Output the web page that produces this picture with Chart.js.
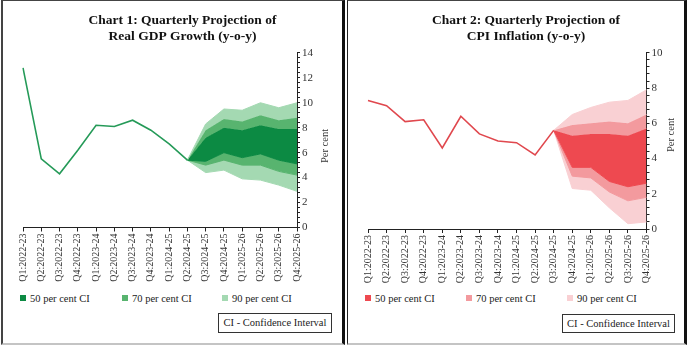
<!DOCTYPE html>
<html>
<head>
<meta charset="utf-8">
<script src="https://cdn.jsdelivr.net/npm/chart.js"></script>
<style>
  body { margin: 0; background: #fff; font-family: "Liberation Serif", serif; color: #222; }
  #wrap { position: relative; width: 691px; height: 347px; overflow: hidden; }
  .panel { position: absolute; top: 0; height: 345px; box-sizing: border-box;
           border-top: 1px solid #444; border-bottom: 2px solid #c4c4c4; }
  #p1 { left: 1px; width: 344px; border-left: 2px solid #444; border-right: 3px solid #111; }
  #p2 { left: 347px; width: 340px; border-left: 1px solid #222; border-right: 3px solid #111; }
  canvas { position: absolute; top: 1px; }
  #c1 { left: 3px; }
  #c2 { left: 348px; }
  .item { position: absolute; top: 292px; font-size: 10.5px; line-height: 14px; white-space: nowrap; }
  .sw { display: inline-block; width: 6px; height: 6px; margin-right: 4px; vertical-align: 1px; }
  .note { position: absolute; box-sizing: border-box; border: 1px solid #333; font-size: 10.5px;
          line-height: 17px; text-align: center; white-space: nowrap; }
</style>
</head>
<body>
<div id="wrap">
  <div class="panel" id="p1"></div>
  <div class="panel" id="p2"></div>
  <canvas id="c1" width="339" height="290"></canvas>
  <canvas id="c2" width="336" height="290"></canvas>
  <div id="leg1"></div>
  <div id="leg2"></div>
  <div class="note" style="left:218px;top:313px;width:114px;height:20px;">CI - Confidence Interval</div>
  <div class="note" style="left:562px;top:314px;width:113px;height:19px;">CI - Confidence Interval</div>
</div>
<script>
const quarters = [
  'Q1:2022-23', 'Q2:2022-23', 'Q3:2022-23', 'Q4:2022-23',
  'Q1:2023-24', 'Q2:2023-24', 'Q3:2023-24', 'Q4:2023-24',
  'Q1:2024-25', 'Q2:2024-25', 'Q3:2024-25', 'Q4:2024-25',
  'Q1:2025-26', 'Q2:2025-26', 'Q3:2025-26', 'Q4:2025-26'
];
const bandNames = ['50 per cent CI', '70 per cent CI', '90 per cent CI'];

// Real GDP growth, actual and fan bands
const gdpActual = [12.8, 5.5, 4.3, 6.2, 8.2, 8.1, 8.6, 7.8, 6.7, 5.4, null, null, null, null, null, null];
const gdpUpper90 = [null, null, null, null, null, null, null, null, null, 5.4, 8.3, 9.5, 9.4, 10.0, 9.6, 10.0];
const gdpUpper70 = [null, null, null, null, null, null, null, null, null, 5.4, 7.8, 8.7, 8.5, 9.0, 8.6, 8.8];
const gdpUpper50 = [null, null, null, null, null, null, null, null, null, 5.4, 7.2, 8.0, 7.8, 8.2, 7.9, 7.9];
const gdpLower50 = [null, null, null, null, null, null, null, null, null, 5.4, 5.3, 6.0, 5.6, 5.9, 5.4, 5.1];
const gdpLower70 = [null, null, null, null, null, null, null, null, null, 5.4, 5.0, 5.4, 5.0, 5.0, 4.5, 4.2];
const gdpLower90 = [null, null, null, null, null, null, null, null, null, 5.4, 4.4, 4.6, 3.9, 3.8, 3.4, 2.9];

// CPI inflation, actual and fan bands
const cpiActual = [7.3, 7.0, 6.1, 6.2, 4.6, 6.4, 5.4, 5.0, 4.9, 4.2, 5.6, null, null, null, null, null];
const cpiUpper90 = [null, null, null, null, null, null, null, null, null, null, 5.6, 6.5, 6.9, 7.2, 7.3, 7.9];
const cpiUpper70 = [null, null, null, null, null, null, null, null, null, null, 5.6, 5.9, 6.0, 6.1, 6.0, 6.5];
const cpiUpper50 = [null, null, null, null, null, null, null, null, null, null, 5.6, 5.3, 5.4, 5.4, 5.3, 5.7];
const cpiLower50 = [null, null, null, null, null, null, null, null, null, null, 5.6, 3.5, 3.5, 2.7, 2.4, 2.6];
const cpiLower70 = [null, null, null, null, null, null, null, null, null, null, 5.6, 3.0, 2.9, 2.1, 1.6, 1.8];
const cpiLower90 = [null, null, null, null, null, null, null, null, null, null, 5.6, 2.3, 2.2, 1.2, 0.3, 0.4];

const gdpTicksMax = 14;
const cpiTicksMax = 10;

const greens = ['#0c8a43', '#58b46f', '#a4d9b2'];
const reds = ['#ee4950', '#f39a9e', '#f9d0d3'];

const serif = '"Liberation Serif", "Times New Roman", serif';

// rotated "Per cent" reading upwards beside the right axis
const sideTitle = {
  id: 'sideTitle',
  afterDraw(chart, args, opts) {
    const { ctx, chartArea } = chart;
    ctx.save();
    ctx.translate(chartArea.right + opts.dx, opts.y);
    ctx.rotate(-Math.PI / 2);
    ctx.font = '10.5px ' + serif;
    ctx.fillStyle = '#333';
    ctx.textAlign = 'center';
    ctx.textBaseline = 'middle';
    ctx.fillText(opts.text, 0, 0);
    ctx.restore();
  }
};

function band(label, data, color, edge, fill) {
  return {
    label, data, fill,
    backgroundColor: color,
    borderColor: edge,
    borderWidth: 1,
    pointRadius: 0,
    tension: 0
  };
}

function makeChart(id, o) {
  const [dark, mid, light] = o.colors;
  return new Chart(document.getElementById(id), {
    type: 'line',
    data: {
      labels: quarters,
      datasets: [
        { label: 'Actual', data: o.actual, borderColor: o.lineColor, borderWidth: 1.6,
          pointRadius: 0, fill: false, tension: 0 },
        band('Upper 90', o.bands[0], light, light, '+1'),
        band('Upper 70', o.bands[1], mid, mid, '+1'),
        band('Upper 50', o.bands[2], dark, dark, '+1'),
        band('Lower 50', o.bands[3], mid, dark, '+1'),
        band('Lower 70', o.bands[4], light, mid, '+1'),
        band('Lower 90', o.bands[5], light, light, false)
      ]
    },
    options: {
      responsive: false,
      animation: false,
      layout: { padding: { left: o.padLeft, right: 0, top: 0, bottom: 0 } },
      plugins: {
        legend: { display: false },
        tooltip: { enabled: false },
        title: {
          display: true,
          text: o.title,
          color: '#111',
          font: { family: serif, size: 13.5, weight: 'bold', lineHeight: 1.18 },
          padding: { top: 12, bottom: 8 }
        },
        sideTitle: { text: 'Per cent', dx: o.sideDx, y: o.sideY }
      },
      scales: {
        x: {
          type: 'category',
          offset: false,
          grid: { drawOnChartArea: false, tickLength: 4, color: '#222', offset: false },
          border: { color: '#222', width: 1 },
          ticks: { autoSkip: false, minRotation: 90, maxRotation: 90, padding: 2,
                   color: '#333', font: { family: serif, size: 10 } },
          afterFit(s) { s.height = o.xHeight; }
        },
        y: {
          position: 'right',
          min: 0,
          max: o.yMax,
          grid: { drawOnChartArea: false, tickLength: 3, color: '#222' },
          border: { color: '#222', width: 1 },
          ticks: {
            stepSize: 0.4,
            autoSkip: false,
            padding: 2,
            color: '#333',
            font: { family: serif, size: 11 },
            callback: v => (Math.round(v * 10) % 20 === 0 ? String(Math.round(v)) : '')
          },
          afterFit(s) { s.width = o.yWidth; }
        }
      }
    },
    plugins: [sideTitle]
  });
}

function makeLegend(id, colors, xs) {
  const box = document.getElementById(id);
  bandNames.forEach((name, i) => {
    const el = document.createElement('div');
    el.className = 'item';
    el.style.left = xs[i] + 'px';
    el.innerHTML = '<span class="sw" style="background:' + colors[i] + '"></span>' + name;
    box.appendChild(el);
  });
}

makeChart('c1', {
  title: ['Chart 1: Quarterly Projection of', 'Real GDP Growth (y-o-y)'],
  actual: gdpActual,
  bands: [gdpUpper90, gdpUpper70, gdpUpper50, gdpLower50, gdpLower70, gdpLower90],
  yMax: gdpTicksMax,
  lineColor: '#259a58',
  colors: greens,
  padLeft: 20,
  yWidth: 45,
  xHeight: 63.5,
  sideDx: 28,
  sideY: 145
});

makeChart('c2', {
  title: ['Chart 2: Quarterly Projection of', 'CPI Inflation (y-o-y)'],
  actual: cpiActual,
  bands: [cpiUpper90, cpiUpper70, cpiUpper50, cpiLower50, cpiLower70, cpiLower90],
  yMax: cpiTicksMax,
  lineColor: '#e0484e',
  colors: reds,
  padLeft: 20,
  yWidth: 37.5,
  xHeight: 62,
  sideDx: 25,
  sideY: 134
});

makeLegend('leg1', greens, [20, 122, 222]);
makeLegend('leg2', reds, [365, 466, 567]);
</script>
</body>
</html>
